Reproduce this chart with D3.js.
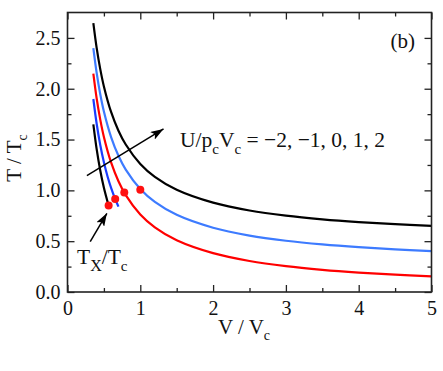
<!DOCTYPE html>
<html>
<head>
<meta charset="utf-8">
<script src="https://cdn.jsdelivr.net/npm/d3@7"></script>
<style>
  body { margin: 0; background: #fff; }
  svg text { font-family: "Liberation Serif", "Times New Roman", serif; fill: #111; }
</style>
</head>
<body>
<div id="chart"></div>
<script>
// Curves: [V/Vc, T/Tc]
const curveTopBlack = [[0.355, 2.646], [0.40, 2.405], [0.45, 2.193], [0.50, 2.023], [0.60, 1.769], [0.70, 1.587],
  [0.80, 1.451], [1.00, 1.260], [1.20, 1.133], [1.50, 1.006], [2.00, 0.879], [2.50, 0.802], [3.00, 0.751],
  [3.50, 0.715], [4.00, 0.688], [4.50, 0.667], [5.00, 0.650]];
const curveTopBlue = [[0.355, 2.399], [0.40, 2.158], [0.45, 1.946], [0.50, 1.776], [0.60, 1.522], [0.70, 1.340],
  [0.80, 1.204], [1.00, 1.013], [1.20, 0.886], [1.50, 0.759], [2.00, 0.632], [2.50, 0.555], [3.00, 0.504],
  [3.50, 0.468], [4.00, 0.441], [4.50, 0.420], [5.00, 0.403]];
const curveRed = [[0.355, 2.149], [0.40, 1.908], [0.45, 1.696], [0.50, 1.526], [0.60, 1.272], [0.70, 1.090],
  [0.80, 0.954], [1.00, 0.763], [1.20, 0.636], [1.50, 0.509], [2.00, 0.382], [2.50, 0.305],
  [3.00, 0.254], [3.50, 0.218], [4.00, 0.191], [4.50, 0.170], [5.00, 0.153]];
const curveLowBlue = [[0.355, 1.899], [0.40, 1.658], [0.45, 1.446], [0.50, 1.276], [0.55, 1.137], [0.60, 1.022],
  [0.655, 0.915], [0.70, 0.840]];
const curveLowBlack = [[0.355, 1.649], [0.40, 1.408], [0.45, 1.196], [0.50, 1.026], [0.565, 0.850]];
const txPoints = [[0.565, 0.850], [0.655, 0.915], [0.78, 0.978], [1.0, 1.005]];

const xTicks = [0, 1, 2, 3, 4, 5];
const yTicks = [0.0, 0.5, 1.0, 1.5, 2.0, 2.5];

const width = 443, height = 371;
const margin = { top: 12.5, right: 11.5, bottom: 79, left: 67.5 };

const svg = d3.select('#chart').append('svg')
  .attr('width', width)
  .attr('height', height);

const x = d3.scaleLinear().domain([0, 5]).range([margin.left, width - margin.right]);
const y = d3.scaleLinear().domain([0, 2.75]).range([height - margin.bottom, margin.top]);

// arrow head
svg.append('defs').append('marker')
  .attr('id', 'head')
  .attr('viewBox', '0 0 13 9')
  .attr('refX', 13).attr('refY', 4.5)
  .attr('markerWidth', 13).attr('markerHeight', 9)
  .attr('markerUnits', 'userSpaceOnUse')
  .attr('orient', 'auto')
  .append('path').attr('d', 'M0,0 L13,4.5 L0,9 L3,4.5 Z').attr('fill', '#000');

const line = d3.line()
  .x(d => x(d[0]))
  .y(d => y(d[1]))
  .curve(d3.curveCatmullRom.alpha(0.5));

const series = [
  { data: curveTopBlack, color: '#000000' },
  { data: curveTopBlue, color: '#3d7bff' },
  { data: curveRed, color: '#ff0000' },
  { data: curveLowBlue, color: '#1a3cff' },
  { data: curveLowBlack, color: '#000000' }
];

series.forEach(s => {
  svg.append('path')
    .datum(s.data)
    .attr('d', line)
    .attr('fill', 'none')
    .attr('stroke', s.color)
    .attr('stroke-width', 2.2);
});

svg.selectAll('.tx')
  .data(txPoints)
  .join('circle')
  .attr('class', 'tx')
  .attr('cx', d => x(d[0]))
  .attr('cy', d => y(d[1]))
  .attr('r', 4)
  .attr('fill', '#ff1010');

// axes: inward ticks on all four sides
const plotH = height - margin.top - margin.bottom;
const plotW = width - margin.left - margin.right;
const xMinor = d3.range(0.5, 5, 1);
const yMinor = d3.range(0.25, 2.75, 0.5);
const serif = '"Liberation Serif", "Times New Roman", serif';

function styleAxis(g) {
  g.attr('font-family', serif);
  g.select('.domain').remove();
  g.selectAll('line').attr('stroke', '#222').attr('stroke-width', 1.3);
}

svg.append('g').attr('transform', `translate(0,${height - margin.bottom})`)
  .call(d3.axisBottom(x).tickValues(xTicks).tickSize(-7).tickPadding(9).tickFormat(d3.format('d')))
  .call(styleAxis)
  .selectAll('text').style('font-size', '20px').attr('fill', '#111');
svg.append('g').attr('transform', `translate(0,${height - margin.bottom})`)
  .call(d3.axisBottom(x).tickValues(xMinor).tickSize(-4).tickFormat(''))
  .call(styleAxis);
svg.append('g').attr('transform', `translate(0,${margin.top})`)
  .call(d3.axisTop(x).tickValues(xTicks).tickSize(-7).tickFormat(''))
  .call(styleAxis);
svg.append('g').attr('transform', `translate(0,${margin.top})`)
  .call(d3.axisTop(x).tickValues(xMinor).tickSize(-4).tickFormat(''))
  .call(styleAxis);

svg.append('g').attr('transform', `translate(${margin.left},0)`)
  .call(d3.axisLeft(y).tickValues(yTicks).tickSize(-7).tickPadding(7).tickFormat(d3.format('.1f')))
  .call(styleAxis)
  .selectAll('text').style('font-size', '20px').attr('fill', '#111');
svg.append('g').attr('transform', `translate(${margin.left},0)`)
  .call(d3.axisLeft(y).tickValues(yMinor).tickSize(-4).tickFormat(''))
  .call(styleAxis);
svg.append('g').attr('transform', `translate(${width - margin.right},0)`)
  .call(d3.axisRight(y).tickValues(yTicks).tickSize(-7).tickFormat(''))
  .call(styleAxis);
svg.append('g').attr('transform', `translate(${width - margin.right},0)`)
  .call(d3.axisRight(y).tickValues(yMinor).tickSize(-4).tickFormat(''))
  .call(styleAxis);

// frame
svg.append('rect')
  .attr('x', margin.left).attr('y', margin.top)
  .attr('width', plotW).attr('height', plotH)
  .attr('fill', 'none').attr('stroke', '#222').attr('stroke-width', 1.6);

// axis titles
const xTitle = svg.append('text')
  .attr('x', 244).attr('y', 334)
  .attr('text-anchor', 'middle')
  .style('font-size', '21px');
xTitle.append('tspan').text('V / V');
xTitle.append('tspan').attr('dy', 6).style('font-size', '14px').text('c');

const yTitle = svg.append('text')
  .attr('transform', 'translate(21,158) rotate(-90)')
  .attr('text-anchor', 'middle')
  .style('font-size', '21px');
yTitle.append('tspan').text('T / T');
yTitle.append('tspan').attr('dy', 6).style('font-size', '14px').text('c');

// panel label
svg.append('text')
  .attr('x', 415).attr('y', 48)
  .attr('text-anchor', 'end')
  .style('font-size', '21px')
  .text('(b)');

// U annotation with arrow
svg.append('line')
  .attr('x1', x(0.266)).attr('y1', y(1.144))
  .attr('x2', x(1.319)).attr('y2', y(1.604))
  .attr('stroke', '#000').attr('stroke-width', 1.5)
  .attr('marker-end', 'url(#head)');

const uLabel = svg.append('text')
  .attr('x', 180).attr('y', 147)
  .style('font-size', '21.5px');
uLabel.append('tspan').text('U/p');
uLabel.append('tspan').attr('dy', 7).style('font-size', '15px').text('c');
uLabel.append('tspan').attr('dy', -7).text('V');
uLabel.append('tspan').attr('dy', 7).style('font-size', '15px').text('c');
uLabel.append('tspan').attr('dy', -7).text(' = \u22122, \u22121, 0, 1, 2');

// Tx annotation with arrow
svg.append('line')
  .attr('x1', x(0.312)).attr('y1', y(0.495))
  .attr('x2', x(0.541)).attr('y2', y(0.774))
  .attr('stroke', '#000').attr('stroke-width', 1.5)
  .attr('marker-end', 'url(#head)');

const txLabel = svg.append('text')
  .attr('x', 77).attr('y', 264)
  .style('font-size', '21.5px');
txLabel.append('tspan').text('T');
txLabel.append('tspan').attr('dy', 7).style('font-size', '16px').text('X');
txLabel.append('tspan').attr('dy', -7).text('/T');
txLabel.append('tspan').attr('dy', 7).style('font-size', '15px').text('c');
</script>
</body>
</html>
